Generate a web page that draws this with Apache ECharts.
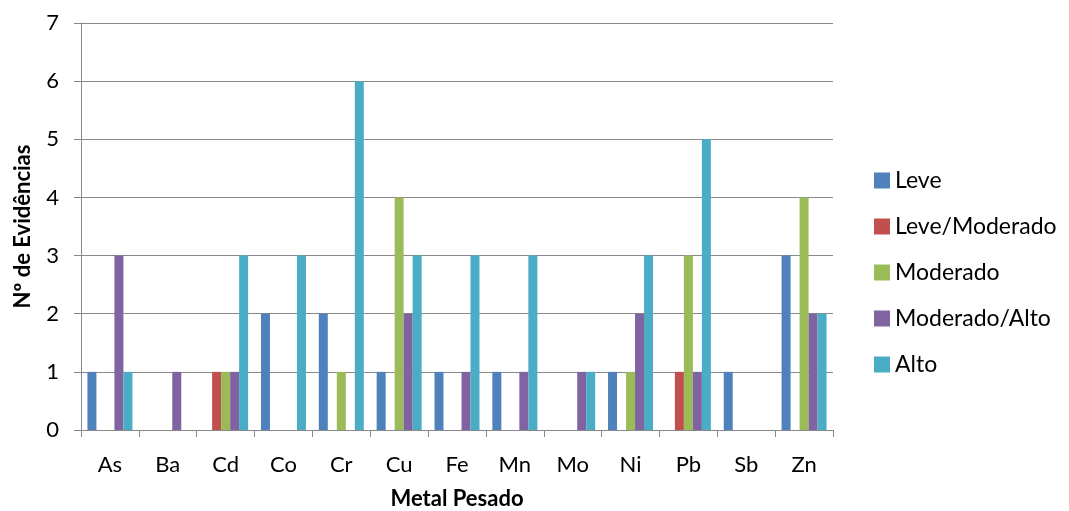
<!DOCTYPE html>
<html><head><meta charset="utf-8">
<script src="https://cdn.jsdelivr.net/npm/echarts@6/dist/echarts.min.js"></script>
<style>html,body{margin:0;padding:0;background:#fff}#c{width:1069px;height:511px}</style>
</head><body><div id="c"></div>
<script>
const categories = ['As','Ba','Cd','Co','Cr','Cu','Fe','Mn','Mo','Ni','Pb','Sb','Zn'];
const leve          = [1,0,0,2,2,1,1,1,0,1,0,1,3];
const leveModerado  = [0,0,1,0,0,0,0,0,0,0,1,0,0];
const moderado      = [0,0,1,0,1,4,0,0,0,1,3,0,4];
const moderadoAlto  = [3,1,1,0,0,2,1,1,1,2,1,0,2];
const alto          = [1,0,3,3,6,3,3,3,1,3,5,0,2];
const seriesNames = ['Leve','Leve/Moderado','Moderado','Moderado/Alto','Alto'];
const seriesData = [leve, leveModerado, moderado, moderadoAlto, alto];
const colors = ['#4F81BD','#C0504D','#9BBB59','#8064A2','#4BACC6'];
const yTicks = [0,1,2,3,4,5,6,7];

const font = 'Lato, "Open Sans", sans-serif';
const chart = echarts.init(document.getElementById('c'));
chart.setOption({
  animation: false,
  color: colors,
  textStyle: {fontFamily: font},
  grid: {left: 81, top: 23, width: 752, height: 407, containLabel: false, outerBoundsMode: 'none'},
  legend: {
    orient: 'vertical', left: 874, top: 169, itemGap: 23, padding: 0,
    itemWidth: 16, itemHeight: 16, icon: 'rect',
    textStyle: {fontSize: 23, color: '#000', fontFamily: font}
  },
  xAxis: {
    type: 'category', data: categories,
    name: 'Metal Pesado', nameLocation: 'middle', nameGap: 58,
    nameTextStyle: {fontSize: 22, fontWeight: 'bold', color: '#000', fontFamily: font},
    axisLine: {lineStyle: {color: '#888', width: 1}},
    axisTick: {show: true, alignWithLabel: false, length: 7, lineStyle: {color: '#888'}},
    axisLabel: {fontSize: 22, color: '#000', margin: 24, fontFamily: font}
  },
  yAxis: {
    type: 'value', min: yTicks[0], max: yTicks[yTicks.length-1], interval: 1,
    name: 'Nº de Evidências', nameLocation: 'middle', nameGap: 47, nameRotate: 90,
    nameTextStyle: {fontSize: 22, fontWeight: 'bold', color: '#000', fontFamily: font},
    axisLine: {show: true, lineStyle: {color: '#888', width: 1}},
    axisTick: {show: true, length: 7, lineStyle: {color: '#888'}},
    axisLabel: {fontSize: 22, color: '#000', margin: 22, fontFamily: font},
    splitLine: {show: true, lineStyle: {color: '#888', width: 1}}
  },
  series: seriesNames.map((n,i)=>({
    name: n, type: 'bar', data: seriesData[i], barWidth: 9, barGap: '0%'
  }))
});
</script></body></html>
